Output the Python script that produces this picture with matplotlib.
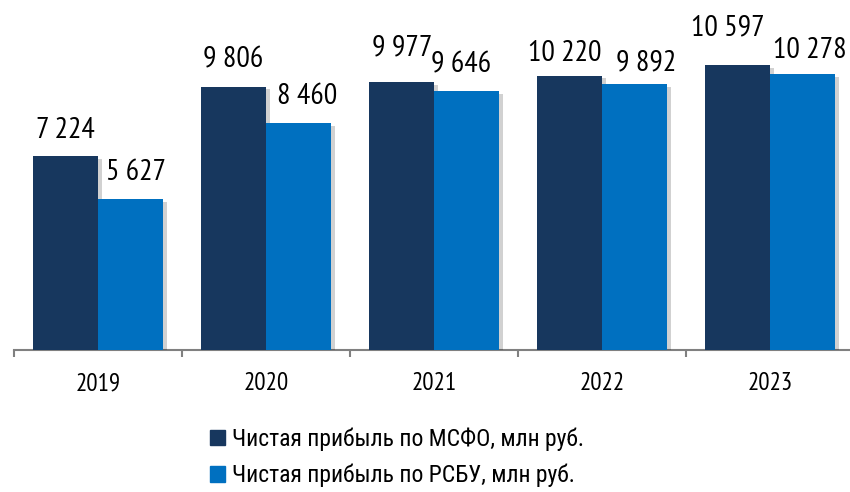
import matplotlib
matplotlib.use("Agg")
import matplotlib.pyplot as plt
import matplotlib.patheffects as pe
import numpy as np

years = ["2019", "2020", "2021", "2022", "2023"]
msfo = [7224, 9806, 9977, 10220, 10597]
rsbu = [5627, 8460, 9646, 9892, 10278]
series_names = ["Чистая прибыль по МСФО, млн руб.", "Чистая прибыль по РСБУ, млн руб."]
colors = ["#17375E", "#0070C0"]
# label nudges (pixels) as placed in the reference: (dx, gap above bar)
msfo_nudge = [(0, 18), (0, 19), (1, 27), (-5, 15), (-10, 30)]
rsbu_nudge = [(5, 19), (9, 19), (-5, 19), (12, 14), (7, 16)]

plt.rcParams['font.family'] = ["PT Sans Narrow", "Liberation Sans", "DejaVu Sans"]

def fmt(v):
    return f"{v:,}".replace(",", " ")

W, H = 850, 492
fig = plt.figure(figsize=(W/100, H/100), dpi=100)
# axes: x from 14px to 854px, baseline at y=350px, top at 0
ax = fig.add_axes([14/W, (H-350)/H, 840/W, 350/H])
x = np.arange(len(years))
bw = 65/168
shadow = [pe.SimplePatchShadow(offset=(3, -2), shadow_rgbFace="#000000", alpha=0.18), pe.Normal()]
b1 = ax.bar(x - bw/2, msfo, bw, color=colors[0], label=series_names[0], path_effects=shadow, zorder=3)
b2 = ax.bar(x + bw/2, rsbu, bw, color=colors[1], label=series_names[1], path_effects=shadow, zorder=3)

for bars, vals, nudges in ((b1, msfo, msfo_nudge), (b2, rsbu, rsbu_nudge)):
    for b, v, (dx, dy) in zip(bars, vals, nudges):
        ax.annotate(fmt(v), (b.get_x() + b.get_width()/2, v), xytext=(dx, dy),
                    textcoords="offset pixels", ha="center", va="baseline",
                    fontsize=21.5, color="#000000")

ax.set_xlim(-0.5, len(years) - 0.5)
ax.set_ylim(0, 350/0.02685)
for s in ["top", "right", "left"]:
    ax.spines[s].set_visible(False)
ax.spines["bottom"].set_color("#808080")
ax.spines["bottom"].set_linewidth(1.5)
ax.set_yticks([])
ax.set_xticks(np.arange(len(years) + 1) - 0.5, minor=True)
ax.set_xticks(x)
ax.set_xticklabels(years, fontsize=18)
ax.tick_params(axis="x", which="major", length=0, pad=16)
ax.tick_params(axis="x", which="minor", length=5, width=1.5, color="#808080")

handles = [plt.Rectangle((0, 0), 1, 1, color=c) for c in colors]
fig.legend(handles, series_names, loc="upper left", bbox_to_anchor=(201/W, 1 - 418/H),
           frameon=False, prop={"family": ["Roboto Condensed", "PT Sans Narrow", "DejaVu Sans"], "size": 17},
           handlelength=0.62, handleheight=0.62,
           handletextpad=0.3, labelspacing=0.55, borderaxespad=0)

fig.savefig("out.png", dpi=100)
